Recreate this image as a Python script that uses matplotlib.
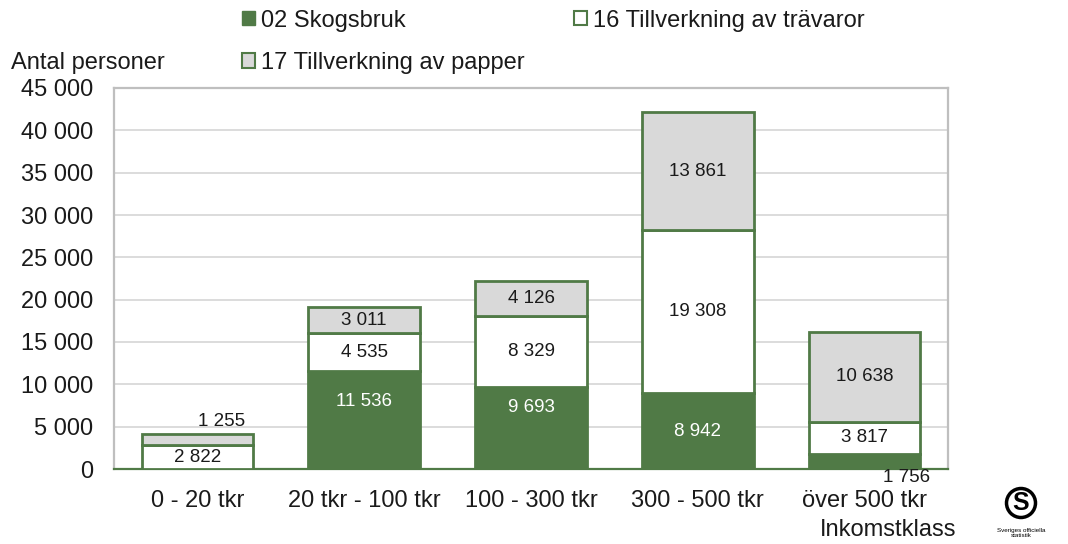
import matplotlib
matplotlib.use("Agg")
import matplotlib.pyplot as plt
from matplotlib.patches import Patch
from matplotlib.ticker import FuncFormatter, MultipleLocator

plt.rcParams['font.family'] = ['Liberation Sans', 'DejaVu Sans']

categories = ["0 - 20 tkr", "20 tkr - 100 tkr", "100 - 300 tkr", "300 - 500 tkr", "över 500 tkr"]
skogsbruk = [0, 11536, 9693, 8942, 1756]
travaror = [2822, 4535, 8329, 19308, 3817]
papper = [1255, 3011, 4126, 13861, 10638]
series_names = ["02 Skogsbruk", "16 Tillverkning av trävaror", "17 Tillverkning av papper"]

GREEN = "#507a46"
GRAY = "#d9d9d9"
TXT = "#1a1a1a"

def fmt(v):
    return f"{int(v):,}".replace(",", " ")

fig = plt.figure(figsize=(10.68, 5.44), dpi=100)
ax = fig.add_axes([114/1068, 1-469/544, (948-114)/1068, (469-88)/544])

x = list(range(len(categories)))
w = 0.67
lw = 2.0
ax.bar(x, skogsbruk, w, color=GREEN, edgecolor=GREEN, linewidth=lw, zorder=3)
bottom2 = skogsbruk
ax.bar(x, travaror, w, bottom=bottom2, color="white", edgecolor=GREEN, linewidth=lw, zorder=3)
bottom3 = [a + b for a, b in zip(skogsbruk, travaror)]
ax.bar(x, papper, w, bottom=bottom3, color=GRAY, edgecolor=GREEN, linewidth=lw, zorder=3)

lab_fs = 13.5
sk_shift = [0, 2260, 2360, -100, 0]
for i in x:
    v = skogsbruk[i]
    if v > 0:
        if v > 5000:
            ax.text(i, v/2 + sk_shift[i], fmt(v), ha="center", va="center", color="white",
                    fontsize=lab_fs, zorder=5)
        else:
            ax.text(i + 0.25, -1050, fmt(v), ha="center", va="center", color=TXT,
                    fontsize=lab_fs, zorder=5, clip_on=False)
    v = travaror[i]
    ax.text(i, bottom2[i] + v/2, fmt(v), ha="center", va="center", color=TXT, fontsize=lab_fs, zorder=5)
    v = papper[i]
    if v > 2000:
        ax.text(i, bottom3[i] + v/2, fmt(v), ha="center", va="center", color=TXT, fontsize=lab_fs, zorder=5)
    else:
        ax.text(i + 0.145, bottom3[i] + v + 1550, fmt(v), ha="center", va="center", color=TXT,
                fontsize=lab_fs, zorder=5)

ax.set_xlim(-0.5, len(categories) - 0.5)
ax.set_ylim(0, 45000)
ax.yaxis.set_major_locator(MultipleLocator(5000))
ax.yaxis.set_major_formatter(FuncFormatter(lambda v, p: fmt(v)))
ax.set_xticks(x)
ax.set_xticklabels(categories, fontsize=17, color=TXT)
ax.tick_params(axis="y", labelsize=17, length=0, pad=15, labelcolor=TXT)
ax.tick_params(axis="x", length=0, pad=15)
ax.grid(axis="y", color="#d9d9d9", linewidth=1.3, zorder=0)
ax.set_axisbelow(True)
for s in ["left", "right", "top"]:
    ax.spines[s].set_color("#bfbfbf")
    ax.spines[s].set_linewidth(1.6)
ax.spines["bottom"].set_color(GREEN)
ax.spines["bottom"].set_linewidth(1.6)

fig.text(11/1068, 1-63/544, "Antal personer", fontsize=17, ha="left", va="center", color=TXT)
fig.text(956/1068, 1-530/544, "Inkomstklass", fontsize=17, ha="right", va="center", color=TXT)

handles = [Patch(facecolor=GREEN, edgecolor=GREEN),
           Patch(facecolor=GRAY, edgecolor=GREEN, linewidth=1.5),
           Patch(facecolor="white", edgecolor=GREEN, linewidth=1.5)]
labels = [series_names[0], series_names[2], series_names[1]]
leg = fig.legend(handles, labels, loc="upper left", bbox_to_anchor=(237/1068, 1-5/544),
                 ncol=2, frameon=False, fontsize=17, handlelength=0.55, handleheight=0.55,
                 handletextpad=0.25, columnspacing=2.1, labelspacing=0.85, borderpad=0.2,
                 borderaxespad=0)
for t in leg.get_texts():
    t.set_color(TXT)

# logo-like mark
fig.text(1021/1068, 1-503/544, "S", fontsize=18, fontweight="bold", ha="center", va="center",
         bbox=dict(boxstyle="circle,pad=0.1", fc="white", ec="black", lw=2.5))
fig.text(1021/1068, 1-533/544, "Sveriges officiella\nstatistik", fontsize=4.5, ha="center", va="center")

fig.savefig("out.png", dpi=100)
